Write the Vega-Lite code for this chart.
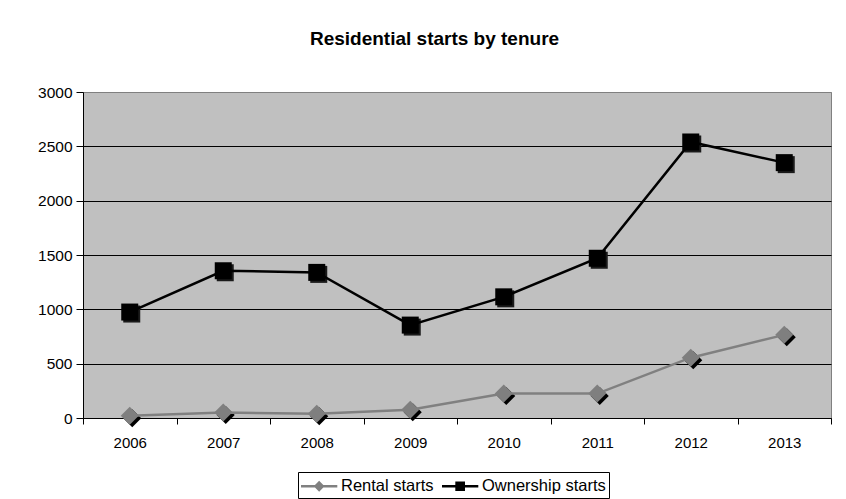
{
  "$schema": "https://vega.github.io/schema/vega-lite/v6.json",
  "autosize": "none",
  "width": 748,
  "height": 326,
  "padding": {"left": 83, "top": 92, "right": 15, "bottom": 81},
  "background": "white",
  "title": {
    "text": "Residential starts by tenure",
    "font": "Liberation Sans",
    "fontSize": 19,
    "fontWeight": "bold",
    "color": "black",
    "anchor": "middle",
    "frame": "bounds",
    "baseline": "bottom",
    "offset": 17
  },
  "config": {
    "view": {"fill": "#c0c0c0", "stroke": "#808080", "strokeWidth": 1},
    "font": "Liberation Sans"
  },
  "data": {
    "values": [
      {"year": "2006", "series": "Rental starts", "value": 20},
      {"year": "2007", "series": "Rental starts", "value": 50},
      {"year": "2008", "series": "Rental starts", "value": 40},
      {"year": "2009", "series": "Rental starts", "value": 75},
      {"year": "2010", "series": "Rental starts", "value": 225},
      {"year": "2011", "series": "Rental starts", "value": 225},
      {"year": "2012", "series": "Rental starts", "value": 555},
      {"year": "2013", "series": "Rental starts", "value": 765},
      {"year": "2006", "series": "Ownership starts", "value": 975},
      {"year": "2007", "series": "Ownership starts", "value": 1355},
      {"year": "2008", "series": "Ownership starts", "value": 1340},
      {"year": "2009", "series": "Ownership starts", "value": 855},
      {"year": "2010", "series": "Ownership starts", "value": 1115},
      {"year": "2011", "series": "Ownership starts", "value": 1470},
      {"year": "2012", "series": "Ownership starts", "value": 2540},
      {"year": "2013", "series": "Ownership starts", "value": 2350}
    ]
  },
  "encoding": {
    "x": {
      "field": "year",
      "type": "ordinal",
      "scale": {
        "type": "band",
        "domain": ["2006", "2007", "2008", "2009", "2010", "2011", "2012", "2013"],
        "paddingInner": 0,
        "paddingOuter": 0
      },
      "axis": {
        "title": null,
        "labelAngle": 0,
        "labelFontSize": 15,
        "labelColor": "black",
        "labelPadding": 11,
        "tickBand": "extent",
        "tickSize": 6,
        "tickColor": "black",
        "domainColor": "black",
        "grid": false
      }
    },
    "y": {
      "field": "value",
      "type": "quantitative",
      "scale": {"domain": [0, 3000], "nice": false},
      "axis": {
        "title": null,
        "format": "d",
        "values": [0, 500, 1000, 1500, 2000, 2500, 3000],
        "labelFontSize": 15.5,
        "labelColor": "black",
        "labelPadding": 4,
        "tickSize": 7,
        "tickColor": "black",
        "domainColor": "black",
        "grid": true,
        "gridColor": {"condition": {"test": "datum.value >= 3000", "value": "#808080"}, "value": "black"},
        "gridWidth": 1,
        "gridOpacity": 1
      }
    }
  },
  "layer": [
    {
      "transform": [{"filter": "datum.series === 'Rental starts'"}],
      "mark": {"type": "point", "shape": "diamond", "filled": true, "color": "black", "opacity": 1, "size": 324, "xOffset": 2.5, "yOffset": 2.5}
    },
    {
      "transform": [{"filter": "datum.series === 'Ownership starts'"}],
      "mark": {"type": "point", "shape": "square", "filled": true, "color": "#1a1a1a", "opacity": 1, "size": 289, "xOffset": 2, "yOffset": 2}
    },
    {
      "transform": [{"filter": "datum.series === 'Rental starts'"}],
      "mark": {"type": "line", "color": "#808080", "strokeWidth": 2.5}
    },
    {
      "transform": [{"filter": "datum.series === 'Ownership starts'"}],
      "mark": {"type": "line", "color": "black", "strokeWidth": 2.5}
    },
    {
      "transform": [{"filter": "datum.series === 'Rental starts'"}],
      "mark": {"type": "point", "shape": "diamond", "filled": true, "color": "#7f7f7f", "opacity": 1, "size": 324}
    },
    {
      "transform": [{"filter": "datum.series === 'Ownership starts'"}],
      "mark": {"type": "point", "shape": "square", "filled": true, "color": "black", "opacity": 1, "size": 289}
    },
    {
      "transform": [{"filter": "false"}],
      "mark": {"type": "point", "filled": true, "opacity": 1},
      "encoding": {
        "color": {
          "field": "series",
          "type": "nominal",
          "scale": {"domain": ["Rental starts", "Ownership starts"], "range": ["#808080", "black"]},
          "legend": {
            "title": null,
            "orient": "none",
            "legendX": 215,
            "legendY": 380,
            "direction": "horizontal",
            "strokeColor": "black",
            "fillColor": "white",
            "padding": 3,
            "symbolSize": 484,
            "symbolStrokeWidth": 0,
            "symbolOpacity": 1,
            "labelFontSize": 16.5,
            "labelColor": "black",
            "labelOffset": 18,
            "columnPadding": 8
          }
        },
        "shape": {
          "field": "series",
          "type": "nominal",
          "scale": {
            "domain": ["Rental starts", "Ownership starts"],
            "range": [
              "M-1,-0.11H2.3V0.11H-1Z M0.65,-0.49L1.14,0L0.65,0.49L0.16,0Z",
              "M-1,-0.11H2.3V0.11H-1Z M0.21,-0.44H1.09V0.44H0.21Z"
            ]
          }
        }
      }
    }
  ]
}
